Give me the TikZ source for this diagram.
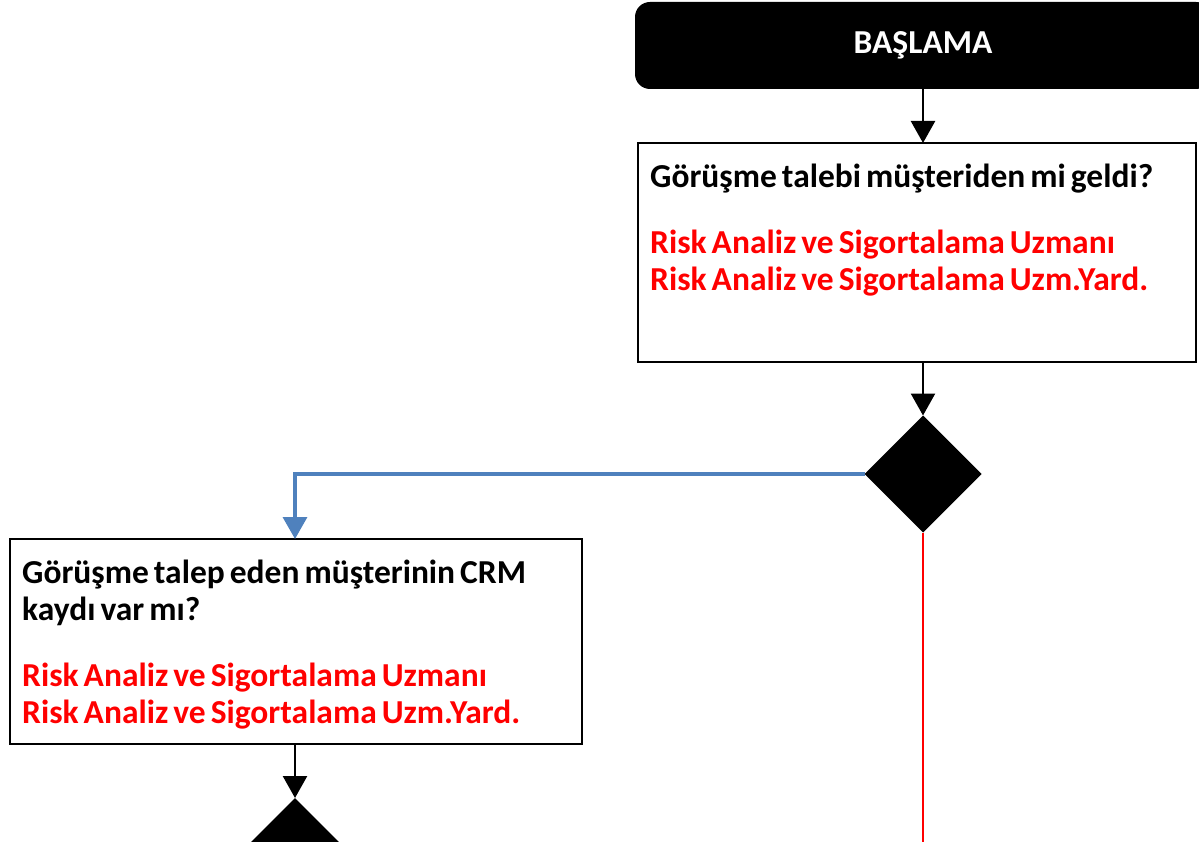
\documentclass[tikz,border=0pt]{standalone}
\usepackage{fontspec}
\setmainfont{Carlito}
\usetikzlibrary{arrows.meta,shapes.geometric}
\definecolor{flowblue}{HTML}{4F81BD}
\definecolor{flowred}{HTML}{FF0000}
\newcommand{\boxfont}{\fontsize{33.5}{37}\selectfont\bfseries}
\newcommand{\tightspaces}{\spaceskip=0.15em plus 0.05em\relax}

\begin{document}
\begin{tikzpicture}[x=1pt, y=-1pt,
	box/.style={shape=rectangle, draw=black, line width=2.5pt, inner sep=0pt, outer sep=0pt},
	boxtext/.style={anchor=north west, inner sep=0pt, text width=545pt, align=left, font=\boxfont},
	decision/.style={shape=diamond, fill=black, minimum width=117pt, minimum height=117pt, inner sep=0pt, outer sep=0pt},
	flow/.style={line width=2.5pt, -{Triangle[length=22pt, width=24pt]}}]
	
	\clip (0, 0) rectangle (1199, 842);
	
	\node[shape=rectangle, fill=black, rounded corners=15pt, minimum width=576pt, minimum height=87pt,
		inner sep=0pt, outer sep=0pt, text=white, font=\fontsize{33.5}{40}\selectfont\bfseries] (start) at (923, 45.5) {BAŞLAMA};
	
	\node[box, minimum width=558pt, minimum height=219pt] (q1) at (917, 252.5) {};
	\node[boxtext] (q1t) at ([shift={(12, 21)}]q1.north west) {\tightspaces Görüşme talebi müşteriden mi geldi?\\[29pt]
		\textcolor{flowred}{Risk Analiz ve Sigortalama Uzmanı}\\
		\textcolor{flowred}{Risk Analiz ve Sigortalama Uzm.Yard.}};
	
	\node[decision] (d1) at (923, 474) {};
	
	\node[box, minimum width=572pt, minimum height=205pt] (q2) at (296, 641.5) {};
	\node[boxtext] (q2t) at ([shift={(12, 21)}]q2.north west) {\tightspaces Görüşme talep eden müşterinin CRM\\
		kaydı var mı?\\[29pt]
		\textcolor{flowred}{Risk Analiz ve Sigortalama Uzmanı}\\
		\textcolor{flowred}{Risk Analiz ve Sigortalama Uzm.Yard.}};
	
	\node[decision] (d2) at (295, 856.5) {};
	\coordinate (redend) at (923, 842);
	
	\path[flow] (start.south) edge (q1.north -| start.south);
	\path[flow] (q1.south -| d1.north) edge (d1.north);
	\draw[flow, line width=3.5pt, color=flowblue] (d1.west) -| (q2.north -| d2.north);
	\path[flow] (q2.south -| d2.north) edge (d2.north);
	\path[-, line width=2pt, draw=flowred] (d1.south) edge (redend);

\end{tikzpicture}
\end{document}
